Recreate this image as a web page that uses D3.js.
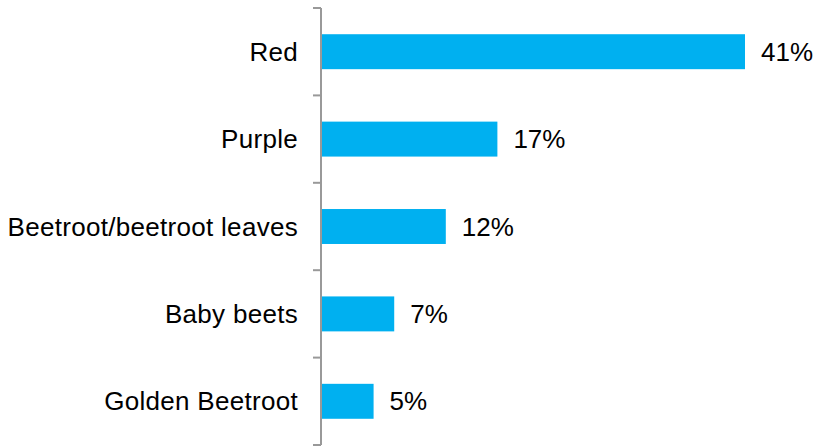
<!DOCTYPE html>
<html><head><meta charset="utf-8">
<script src="https://cdn.jsdelivr.net/npm/d3@7"></script>
<style>html,body{margin:0;padding:0;background:#fff;}</style>
</head><body>
<svg id="c" width="817" height="446"></svg>
<script>
const categories = ["Red", "Purple", "Beetroot/beetroot leaves", "Baby beets", "Golden Beetroot"];
const values = [41, 17, 12, 7, 5];
const valueLabels = ["41%", "17%", "12%", "7%", "5%"];

const svg = d3.select("#c");
const x0 = 322, yTop = 8, yBot = 445;
const x = d3.scaleLinear().domain([0, 41]).range([x0, 745]);
const y = d3.scaleBand().domain(categories).range([yTop, yBot]).paddingInner(0.6).paddingOuter(0.3);
const step = y.step();

svg.selectAll("rect.bar").data(values).join("rect")
  .attr("class", "bar")
  .attr("x", x(0))
  .attr("y", (d, i) => y(categories[i]))
  .attr("width", d => x(d) - x(0))
  .attr("height", y.bandwidth())
  .attr("fill", "#00b0f0");

// axis line
svg.append("line").attr("x1", 321).attr("x2", 321).attr("y1", yTop).attr("y2", yBot)
  .attr("stroke", "#999").attr("stroke-width", 2);
const ticks = d3.range(categories.length + 1).map(i => yTop + i * step);
svg.selectAll("line.tick").data(ticks).join("line")
  .attr("class", "tick")
  .attr("x1", 313).attr("x2", 321)
  .attr("y1", d => d).attr("y2", d => d)
  .attr("stroke", "#999").attr("stroke-width", 2);

svg.selectAll("text.cat").data(categories).join("text")
  .attr("class", "cat")
  .attr("x", 298)
  .attr("y", d => y(d) + y.bandwidth() / 2)
  .attr("dy", "0.35em")
  .attr("text-anchor", "end")
  .attr("font-family", "Liberation Sans, Arial, sans-serif")
  .attr("font-size", 26)
  .attr("letter-spacing", 0.3)
  .attr("fill", "#000")
  .text(d => d);

svg.selectAll("text.val").data(values).join("text")
  .attr("class", "val")
  .attr("x", d => x(d) + 16)
  .attr("y", (d, i) => y(categories[i]) + y.bandwidth() / 2)
  .attr("dy", "0.35em")
  .attr("font-family", "Liberation Sans, Arial, sans-serif")
  .attr("font-size", 26)
  .attr("fill", "#000")
  .text((d, i) => valueLabels[i]);
</script>
</body></html>
